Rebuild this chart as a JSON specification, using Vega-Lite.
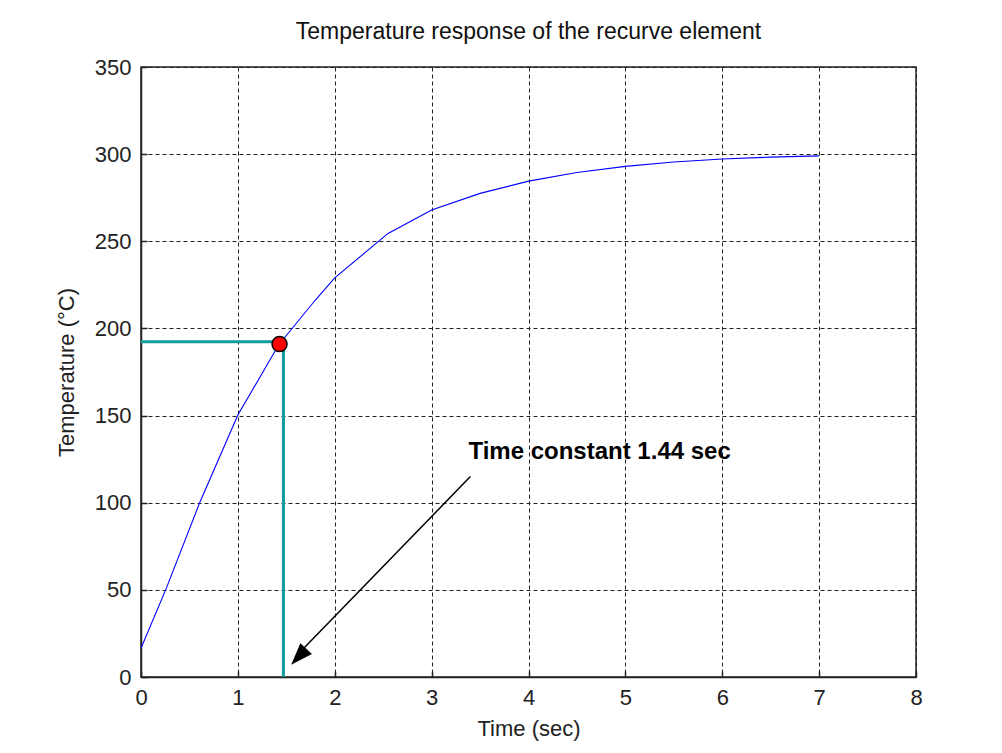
{
  "$schema": "https://vega.github.io/schema/vega-lite/v6.json",
  "width": 775,
  "height": 610,
  "autosize": {"type": "none"},
  "padding": {"left": 141, "top": 67, "right": 86, "bottom": 76},
  "background": "white",
  "config": {
    "font": "Liberation Sans",
    "view": {"stroke": "#222", "strokeWidth": 1.5},
    "axis": {
      "domainColor": "#222",
      "domainWidth": 1.5,
      "grid": true,
      "gridColor": "#222",
      "gridDash": [4, 3],
      "gridWidth": 1,
      "gridOpacity": 1,
      "tickColor": "#222",
      "tickSize": -6,
      "tickWidth": 1.5,
      "labelFlush": false,
      "labelOverlap": false,
      "labelFont": "Liberation Sans",
      "labelFontSize": 22,
      "labelColor": "#222",
      "titleFont": "Liberation Sans",
      "titleFontSize": 22,
      "titleFontWeight": "normal",
      "titleColor": "#222"
    }
  },
  "title": {
    "text": "Temperature response of the recurve element",
    "fontSize": 23,
    "fontWeight": "normal",
    "font": "Liberation Sans",
    "color": "#111",
    "anchor": "middle",
    "offset": 12
  },
  "datasets": {
    "curve": [
      {"t": 0, "temp": 16.5},
      {"t": 0.26, "temp": 50.7},
      {"t": 0.61, "temp": 100.6},
      {"t": 1.0, "temp": 150.3},
      {"t": 1.42, "temp": 190.5},
      {"t": 1.8, "temp": 216.3},
      {"t": 2.0, "temp": 229},
      {"t": 2.55, "temp": 254.5},
      {"t": 3.0, "temp": 268},
      {"t": 3.5, "temp": 277.5},
      {"t": 4.0, "temp": 284.5},
      {"t": 4.5, "temp": 289.5},
      {"t": 5.0, "temp": 293},
      {"t": 5.5, "temp": 295.5},
      {"t": 6.0, "temp": 297.2},
      {"t": 6.5, "temp": 298.3},
      {"t": 7.0, "temp": 299}
    ],
    "guides": [
      {"x": 0, "y": 192.4, "x2": 1.43, "y2": 192.4},
      {"x": 1.47, "y": 0, "x2": 1.47, "y2": 189}
    ],
    "arrow": [
      {"x": 3.4, "y": 115, "x2": 1.62, "y2": 13}
    ],
    "arrowhead": [
      {"x": 1.55, "y": 7}
    ],
    "dot": [
      {"x": 1.43, "y": 191}
    ],
    "label": [
      {"x": 3.38, "y": 129, "text": "Time constant 1.44 sec"}
    ]
  },
  "layer": [
    {
      "data": {"name": "curve"},
      "mark": {"type": "line", "color": "#0000ff", "strokeWidth": 1.1, "clip": true},
      "encoding": {
        "x": {
          "field": "t",
          "type": "quantitative",
          "scale": {"domain": [0, 8], "nice": false},
          "axis": {"title": "Time (sec)", "values": [0, 1, 2, 3, 4, 5, 6, 7, 8], "format": "d", "labelPadding": 16, "titlePadding": 10}
        },
        "y": {
          "field": "temp",
          "type": "quantitative",
          "scale": {"domain": [0, 350], "nice": false},
          "axis": {"title": "Temperature (°C)", "values": [0, 50, 100, 150, 200, 250, 300, 350], "labelPadding": 16, "titlePadding": 16}
        }
      }
    },
    {
      "data": {"name": "guides"},
      "mark": {"type": "rule", "color": "#119c9c", "strokeWidth": 3},
      "encoding": {
        "x": {"field": "x", "type": "quantitative"},
        "y": {"field": "y", "type": "quantitative"},
        "x2": {"field": "x2"},
        "y2": {"field": "y2"}
      }
    },
    {
      "data": {"name": "arrow"},
      "mark": {"type": "rule", "color": "#000000", "strokeWidth": 1.5},
      "encoding": {
        "x": {"field": "x", "type": "quantitative"},
        "y": {"field": "y", "type": "quantitative"},
        "x2": {"field": "x2"},
        "y2": {"field": "y2"}
      }
    },
    {
      "data": {"name": "arrowhead"},
      "mark": {"type": "point", "shape": "M0,0 L-0.36,1 L0.36,1 Z", "filled": true, "color": "#000000", "size": 1936, "angle": 223, "opacity": 1},
      "encoding": {
        "x": {"field": "x", "type": "quantitative"},
        "y": {"field": "y", "type": "quantitative"}
      }
    },
    {
      "data": {"name": "dot"},
      "mark": {"type": "point", "shape": "circle", "filled": true, "fill": "#ff0000", "stroke": "#000000", "strokeWidth": 1.5, "size": 225, "opacity": 1},
      "encoding": {
        "x": {"field": "x", "type": "quantitative"},
        "y": {"field": "y", "type": "quantitative"}
      }
    },
    {
      "data": {"name": "label"},
      "mark": {"type": "text", "align": "left", "baseline": "middle", "font": "Liberation Sans", "fontSize": 24, "fontWeight": "bold", "color": "#000000"},
      "encoding": {
        "x": {"field": "x", "type": "quantitative"},
        "y": {"field": "y", "type": "quantitative"},
        "text": {"field": "text"}
      }
    }
  ]
}
